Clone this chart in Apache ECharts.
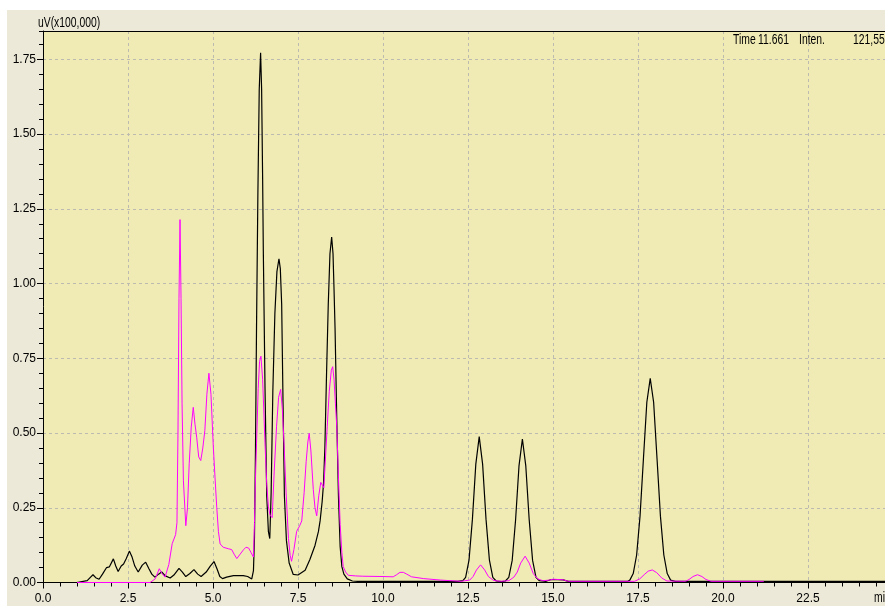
<!DOCTYPE html>
<html>
<head>
<meta charset="utf-8">
<script src="https://cdn.jsdelivr.net/npm/echarts@6/dist/echarts.min.js"></script>
<style>
html,body{margin:0;padding:0;background:#ffffff;width:885px;height:606px;overflow:hidden;}
#chart{position:absolute;left:7px;top:10px;width:878px;height:596px;background:#ece9d8;}
</style>
</head>
<body>
<div id="chart"></div>
<script>
// ---- data (time in min, intensity in uV x100,000) ----
const blackTime = [0,0.99,1.0,1.3,1.4,1.47,1.55,1.65,1.75,1.87,1.95,2.07,2.14,2.21,2.3,2.37,2.45,2.54,2.62,2.7,2.8,2.92,3.02,3.12,3.2,3.29,3.4,3.49,3.6,3.74,3.85,4.0,4.1,4.2,4.32,4.44,4.55,4.65,4.8,4.92,5.03,5.12,5.2,5.28,5.4,5.6,5.89,6.02,6.14,6.19,6.22,6.25,6.28,6.32,6.36,6.4,6.43,6.46,6.48,6.53,6.58,6.63,6.67,6.71,6.76,6.82,6.88,6.94,6.98,7.02,7.06,7.1,7.16,7.24,7.36,7.5,7.71,7.85,8.0,8.1,8.15,8.21,8.25,8.29,8.34,8.39,8.44,8.49,8.53,8.56,8.59,8.64,8.69,8.74,8.79,8.85,8.95,9.1,9.25,12.2,12.35,12.43,12.53,12.63,12.73,12.83,12.93,13.03,13.13,13.23,13.33,13.5,13.6,13.7,13.8,13.9,14.0,14.1,14.2,14.3,14.4,14.5,14.6,14.8,14.95,15.3,15.45,17.2,17.26,17.36,17.46,17.56,17.66,17.76,17.86,17.96,18.06,18.16,18.26,18.36,18.46,18.6,24.8];
const blackValue = [0,0,0.005,0.006,0.018,0.026,0.016,0.011,0.028,0.05,0.052,0.079,0.055,0.037,0.055,0.062,0.08,0.105,0.085,0.055,0.035,0.058,0.068,0.045,0.028,0.018,0.028,0.035,0.022,0.015,0.025,0.047,0.035,0.02,0.03,0.043,0.028,0.02,0.035,0.055,0.07,0.045,0.02,0.013,0.018,0.023,0.023,0.02,0.012,0.04,0.15,0.45,0.85,1.3,1.65,1.772,1.65,1.35,1.11,0.65,0.29,0.17,0.147,0.3,0.64,0.9,1.04,1.083,1.05,0.93,0.6,0.29,0.14,0.065,0.027,0.025,0.041,0.077,0.124,0.17,0.206,0.27,0.33,0.45,0.7,0.93,1.1,1.156,1.1,0.98,0.85,0.55,0.288,0.12,0.053,0.028,0.012,0.005,0.004,0.004,0.006,0.017,0.075,0.212,0.396,0.488,0.396,0.212,0.075,0.017,0.005,0.003,0.005,0.017,0.074,0.21,0.39,0.48,0.39,0.21,0.074,0.017,0.006,0.004,0.01,0.009,0.004,0.004,0.008,0.03,0.092,0.222,0.414,0.603,0.683,0.603,0.414,0.222,0.092,0.03,0.008,0.004,0.004];

const magentaTime = [1.0,3.15,3.3,3.42,3.5,3.59,3.7,3.8,3.9,3.94,3.97,4.0,4.03,4.06,4.09,4.13,4.2,4.25,4.3,4.36,4.42,4.47,4.52,4.58,4.64,4.7,4.76,4.82,4.88,4.94,5.01,5.06,5.11,5.16,5.21,5.3,5.45,5.55,5.62,5.7,5.8,5.9,5.97,6.05,6.12,6.19,6.22,6.25,6.28,6.33,6.37,6.41,6.46,6.53,6.58,6.63,6.68,6.74,6.8,6.87,6.93,6.99,7.04,7.09,7.15,7.22,7.27,7.31,7.38,7.46,7.55,7.61,7.68,7.74,7.79,7.83,7.88,7.95,8.0,8.05,8.11,8.17,8.22,8.26,8.31,8.36,8.42,8.48,8.52,8.56,8.6,8.64,8.69,8.74,8.79,8.83,8.9,8.98,9.2,9.4,10.0,10.3,10.4,10.5,10.6,10.7,10.84,11.2,11.7,12.3,12.55,12.65,12.75,12.87,12.99,13.1,13.25,13.45,13.7,13.85,13.95,14.05,14.18,14.3,14.42,14.55,14.7,14.9,15.0,15.3,15.45,17.4,17.55,17.7,17.8,17.92,18.05,18.2,18.35,18.9,19.0,19.12,19.25,19.38,19.5,19.65,21.2];
const magentaValue = [0,0,0.012,0.046,0.03,0.018,0.06,0.13,0.16,0.2,0.5,0.95,1.214,0.95,0.6,0.34,0.19,0.25,0.397,0.52,0.586,0.53,0.486,0.42,0.408,0.45,0.508,0.63,0.70,0.63,0.453,0.35,0.252,0.17,0.129,0.118,0.113,0.11,0.095,0.08,0.095,0.11,0.118,0.115,0.1,0.085,0.2,0.35,0.464,0.65,0.74,0.757,0.68,0.464,0.33,0.253,0.225,0.217,0.37,0.523,0.62,0.646,0.58,0.464,0.3,0.147,0.09,0.071,0.11,0.171,0.19,0.206,0.3,0.405,0.47,0.499,0.44,0.311,0.25,0.223,0.29,0.335,0.33,0.317,0.42,0.523,0.64,0.71,0.722,0.68,0.6,0.523,0.35,0.194,0.1,0.053,0.035,0.024,0.022,0.021,0.02,0.019,0.026,0.034,0.034,0.028,0.019,0.013,0.008,0.004,0.008,0.02,0.042,0.059,0.042,0.02,0.007,0.004,0.006,0.018,0.035,0.065,0.088,0.065,0.03,0.012,0.006,0.008,0.011,0.009,0.004,0.004,0.012,0.028,0.038,0.042,0.033,0.015,0.005,0.004,0.01,0.02,0.026,0.02,0.01,0.004,0.004];

const yAxisTitle = 'uV(x100,000)';
const xAxisTitle = 'min';
const cursorTexts = ['Time', '11.661', 'Inten.', '121,559'];

// ---- chart ----
const FONT = "'Liberation Sans', Arial, sans-serif";
const chart = echarts.init(document.getElementById('chart'), null, {renderer: 'canvas'});

const blackData = blackTime.map((t, i) => [t, blackValue[i]]);
const magentaData = magentaTime.map((t, i) => [t, magentaValue[i]]);

const X_MAX = 24.765, Y_MAX = 1.845;
const NARROW = 0.74;

function narrowText(txt, x, y) {
  return {type: 'text', x: x, y: y, scaleX: NARROW, z: 20,
    style: {text: txt, font: '14px ' + FONT, fill: '#000', textVerticalAlign: 'middle'}};
}

chart.setOption({
  animation: false,
  backgroundColor: '#ece9d8',
  grid: {left: 36, top: 21, right: 0, bottom: 23.5, show: true, backgroundColor: '#f0ebb4', borderWidth: 0},
  xAxis: [{
    type: 'value', min: 0, max: X_MAX, interval: 2.5,
    axisLine: {show: true, lineStyle: {color: '#000', width: 1}},
    axisTick: {show: true, inside: false, length: 6, lineStyle: {color: '#000'}},
    splitLine: {show: true, lineStyle: {color: '#bdbab0', type: [3, 3], width: 1}},
    axisLabel: {color: '#000', fontFamily: FONT, fontSize: 12, margin: 10, showMaxLabel: false,
      formatter: v => v.toFixed(1)}
  }, {
    type: 'value', min: 0, max: X_MAX, interval: 0.5, position: 'bottom',
    axisLine: {show: false}, axisTick: {show: true, length: 4, lineStyle: {color: '#000'}},
    splitLine: {show: false}, axisLabel: {show: false}
  }],
  yAxis: [{
    type: 'value', min: 0, max: Y_MAX, interval: 0.25,
    axisLine: {show: true, lineStyle: {color: '#000', width: 1}},
    axisTick: {show: true, inside: false, length: 6, lineStyle: {color: '#000'}},
    splitLine: {show: true, lineStyle: {color: '#bdbab0', type: [3, 3], width: 1}},
    axisLabel: {color: '#000', fontFamily: FONT, fontSize: 12, margin: 7, showMaxLabel: false,
      formatter: v => v.toFixed(2)}
  }, {
    type: 'value', min: 0, max: Y_MAX, interval: 0.05, position: 'left',
    axisLine: {show: false}, axisTick: {show: true, length: 4, lineStyle: {color: '#000'}},
    splitLine: {show: false}, axisLabel: {show: false}
  }],
  series: [{
    type: 'line', name: 'ch1', data: blackData, xAxisIndex: 0, yAxisIndex: 0,
    showSymbol: false, smooth: false, z: 2,
    lineStyle: {color: '#000000', width: 1.2}
  }, {
    type: 'line', name: 'ch2', data: magentaData, xAxisIndex: 0, yAxisIndex: 0,
    showSymbol: false, smooth: false, z: 3,
    lineStyle: {color: '#ff00ff', width: 1}
  }],
  graphic: [
    {type: 'line', shape: {x1: 36, y1: 21.5, x2: 878, y2: 21.5}, style: {stroke: '#000', lineWidth: 1}, z: 10},
    narrowText(yAxisTitle, 31, 13.5),
    narrowText(cursorTexts[0], 726, 30.5),
    narrowText(cursorTexts[1], 751, 30.5),
    narrowText(cursorTexts[2], 792, 30.5),
    narrowText(cursorTexts[3], 846, 30.5),
    narrowText(xAxisTitle, 867, 588)
  ]
});
</script>
</body>
</html>
